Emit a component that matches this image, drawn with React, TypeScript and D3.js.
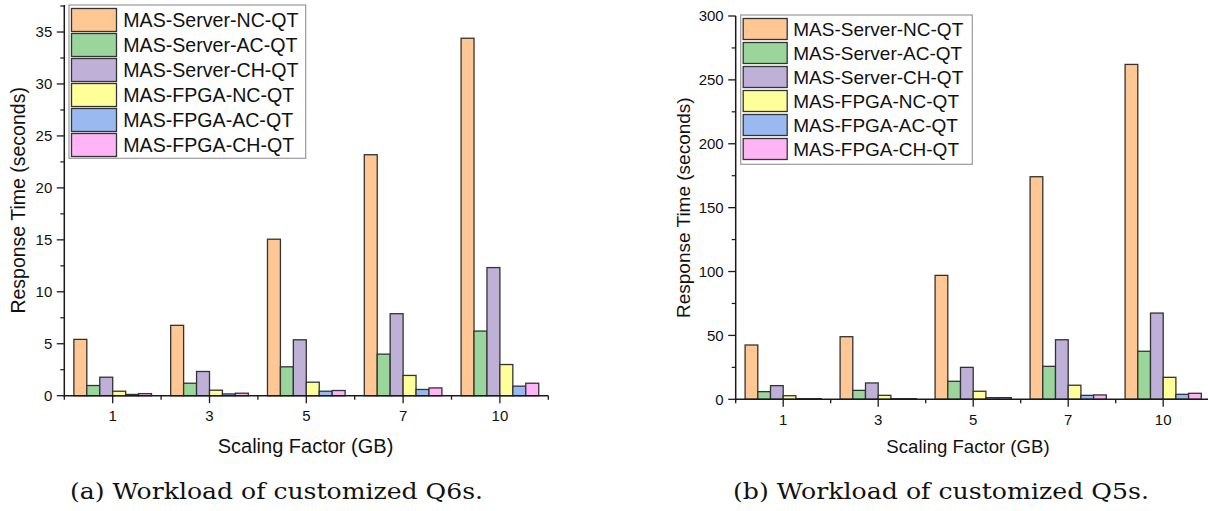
import React from "react";
import * as d3 from "d3";

const categories = ["1", "3", "5", "7", "10"];
const seriesNames = [
  "MAS-Server-NC-QT",
  "MAS-Server-AC-QT",
  "MAS-Server-CH-QT",
  "MAS-FPGA-NC-QT",
  "MAS-FPGA-AC-QT",
  "MAS-FPGA-CH-QT",
];
const seriesColors = ["#FFC794", "#9AD69B", "#BFB0D8", "#FFFF9A", "#9BB9F1", "#FFB4F6"];

// Q6s workload (left)
const q6ServerNC = [5.42, 6.77, 15.06, 23.19, 34.4];
const q6ServerAC = [0.98, 1.2, 2.78, 4.0, 6.22];
const q6ServerCH = [1.78, 2.33, 5.38, 7.89, 12.33];
const q6FpgaNC = [0.43, 0.53, 1.3, 1.95, 3.0];
const q6FpgaAC = [0.12, 0.17, 0.43, 0.6, 0.92];
const q6FpgaCH = [0.2, 0.24, 0.5, 0.75, 1.2];

// Q5s workload (right)
const q5ServerNC = [42.5, 49, 97, 174.2, 262.1];
const q5ServerAC = [6.0, 7.0, 14.1, 25.8, 37.6];
const q5ServerCH = [10.7, 12.8, 25, 46.6, 67.5];
const q5FpgaNC = [2.8, 3.1, 6.3, 11, 17.2];
const q5FpgaAC = [0.5, 0.5, 1.3, 3.1, 3.9];
const q5FpgaCH = [0.5, 0.5, 1.3, 3.4, 4.7];

const q6Ticks = [0, 5, 10, 15, 20, 25, 30, 35];
const q5Ticks = [0, 50, 100, 150, 200, 250, 300];

const yTitle = "Response Time (seconds)";
const xTitle = "Scaling Factor (GB)";
const captionA = "(a) Workload of customized Q6s.";
const captionB = "(b) Workload of customized Q5s.";

const SANS = "'Liberation Sans', Arial, sans-serif";
const SERIF = "'DejaVu Serif', 'Liberation Serif', serif";

type PanelProps = {
  data: number[][];
  ticks: number[];
  minorStep: number;
  yMax: number;
  left: number;
  right: number;
  top: number;
  bottom: number;
  legend: { x: number; y: number; w: number; h: number; sw: number; sh: number; step: number; font: number; textX: number };
  yTitleX: number;
  xTitleX: number;
  xTitleFont: number;
  yTitleFont: number;
  xLabelY: number;
};

function Panel(p: PanelProps) {
  const y = d3.scaleLinear().domain([0, p.yMax]).range([p.bottom, p.top]);
  const x0 = d3.scaleBand<string>().domain(categories).range([p.left, p.right]).padding(0);
  const bw = x0.bandwidth();
  const x1 = d3
    .scaleBand<string>()
    .domain(seriesNames)
    .range([0, bw])
    .paddingInner(0)
    .paddingOuter(0.74);
  const minorTicks = d3.range(p.minorStep, p.yMax, p.minorStep).filter((v) => !p.ticks.includes(v));
  const boundaries = categories.map((c) => x0(c)!).concat([p.right]);
  const axisColor = "#1a1a1a";
  return (
    <g>
      {/* bars */}
      {p.data.map((vals, si) =>
        vals.map((v, ci) => (
          <rect
            key={`${si}-${ci}`}
            x={x0(categories[ci])! + x1(seriesNames[si])!}
            y={y(v)}
            width={x1.bandwidth()}
            height={p.bottom - y(v)}
            fill={seriesColors[si]}
            stroke="#333"
            strokeWidth={1.3}
          />
        ))
      )}
      {/* y axis */}
      <line x1={p.left} x2={p.left} y1={p.top} y2={p.bottom + 1} stroke={axisColor} strokeWidth={1.5} />
      {p.ticks.map((t) => (
        <g key={`yt${t}`}>
          <line x1={p.left - 7.5} x2={p.left} y1={y(t)} y2={y(t)} stroke={axisColor} strokeWidth={1.3} />
          <text
            x={p.left - 12}
            y={y(t) + 5.3}
            textAnchor="end"
            fontFamily={SANS}
            fontSize={15}
            fill="#111"
          >
            {t}
          </text>
        </g>
      ))}
      {minorTicks.map((t) => (
        <line key={`ym${t}`} x1={p.left - 4} x2={p.left} y1={y(t)} y2={y(t)} stroke={axisColor} strokeWidth={1.2} />
      ))}
      {/* x axis */}
      <line x1={p.left} x2={p.right} y1={p.bottom} y2={p.bottom} stroke={axisColor} strokeWidth={1.5} />
      {categories.map((c) => (
        <g key={`xt${c}`}>
          <line
            x1={x0(c)! + bw / 2}
            x2={x0(c)! + bw / 2}
            y1={p.bottom}
            y2={p.bottom + 7.5}
            stroke={axisColor}
            strokeWidth={1.3}
          />
          <text
            x={x0(c)! + bw / 2}
            y={p.xLabelY}
            textAnchor="middle"
            fontFamily={SANS}
            fontSize={15}
            fill="#111"
          >
            {c}
          </text>
        </g>
      ))}
      {boundaries.map((b, i) => (
        <line key={`xb${i}`} x1={b} x2={b} y1={p.bottom} y2={p.bottom + 4} stroke={axisColor} strokeWidth={1.3} />
      ))}
      {/* titles */}
      <text
        x={p.xTitleX}
        y={453}
        textAnchor="middle"
        fontFamily={SANS}
        fontSize={p.xTitleFont}
        fill="#111"
      >
        {xTitle}
      </text>
      <text
        transform={`translate(${p.yTitleX},${(p.top + p.bottom) / 2}) rotate(-90)`}
        textAnchor="middle"
        fontFamily={SANS}
        fontSize={p.yTitleFont}
        fill="#111"
      >
        {yTitle}
      </text>
      {/* legend */}
      <rect
        x={p.legend.x}
        y={p.legend.y}
        width={p.legend.w}
        height={p.legend.h}
        fill="#fff"
        stroke="#999"
        strokeWidth={1.2}
      />
      {seriesNames.map((s, i) => (
        <g key={`lg${s}`}>
          <rect
            x={p.legend.x + 2.5}
            y={p.legend.y + 3.5 + i * p.legend.step}
            width={p.legend.sw}
            height={p.legend.sh}
            fill={seriesColors[i]}
            stroke="#333"
            strokeWidth={1.3}
          />
          <text
            x={p.legend.textX}
            y={p.legend.y + 3.5 + i * p.legend.step + p.legend.sh / 2 + 6.5}
            fontFamily={SANS}
            fontSize={p.legend.font}
            fill="#111"
          >
            {s}
          </text>
        </g>
      ))}
    </g>
  );
}

export default function App() {
  const q6 = [q6ServerNC, q6ServerAC, q6ServerCH, q6FpgaNC, q6FpgaAC, q6FpgaCH];
  const q5 = [q5ServerNC, q5ServerAC, q5ServerCH, q5FpgaNC, q5FpgaAC, q5FpgaCH];
  return (
    <svg
      width={1208}
      height={511}
      style={{ position: "absolute", left: 0, top: 0, background: "#fff" }}
    >
      <Panel
        data={q6}
        ticks={q6Ticks}
        minorStep={2.5}
        yMax={37.6}
        left={64.3}
        right={548.3}
        top={5}
        bottom={395.7}
        legend={{ x: 69, y: 5, w: 236.7, h: 153.3, sw: 45, sh: 23, step: 25, font: 19.6, textX: 123.3 }}
        yTitleX={25}
        xTitleX={305.5}
        xTitleFont={20}
        yTitleFont={19.5}
        xLabelY={420.7}
      />
      <Panel
        data={q5}
        ticks={q5Ticks}
        minorStep={25}
        yMax={300}
        left={735.7}
        right={1210.7}
        top={16}
        bottom={399.3}
        legend={{ x: 740.7, y: 15, w: 231.6, h: 149.3, sw: 44, sh: 21, step: 24, font: 19, textX: 793.3 }}
        yTitleX={690}
        xTitleX={968}
        xTitleFont={18.6}
        yTitleFont={19}
        xLabelY={425}
      />
      <text x={70} y={499.3} fontFamily={SERIF} fontSize={22} textLength={413} lengthAdjust="spacingAndGlyphs" fill="#111">
        {captionA}
      </text>
      <text x={733} y={499.3} fontFamily={SERIF} fontSize={22} textLength={416} lengthAdjust="spacingAndGlyphs" fill="#111">
        {captionB}
      </text>
    </svg>
  );
}
